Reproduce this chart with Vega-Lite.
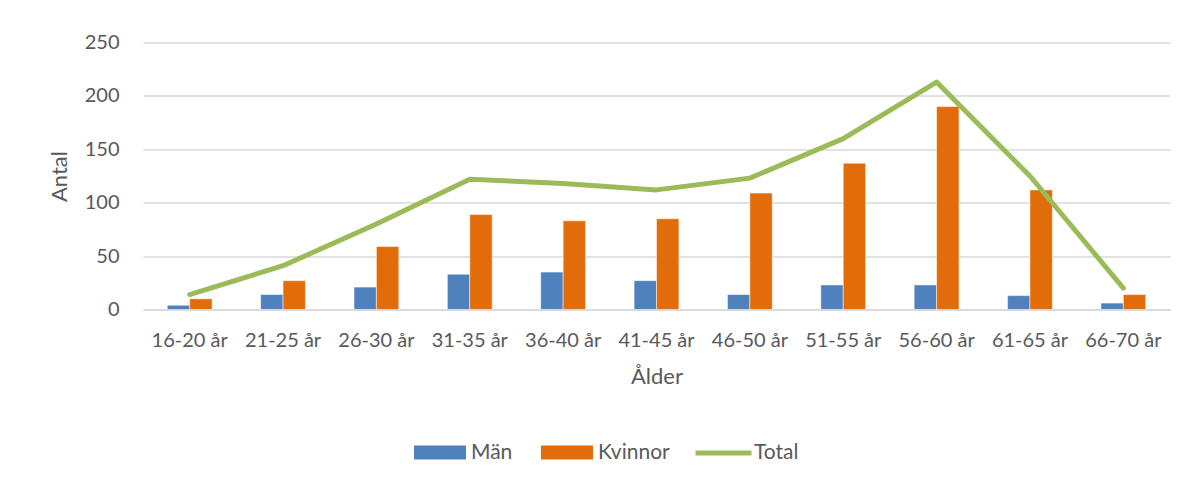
{
  "$schema": "https://vega.github.io/schema/vega-lite/v6.json",
  "autosize": "none",
  "width": 1027,
  "height": 267,
  "padding": {"left": 143, "top": 42.5, "right": 23, "bottom": 172.5},
  "background": "white",
  "config": {
    "font": "Lato",
    "view": {"stroke": null},
    "axis": {"labelColor": "#595959", "titleColor": "#595959", "titleFontWeight": "normal", "labelFont": "Lato", "titleFont": "Lato"},
    "legend": {"labelColor": "#595959", "labelFont": "Lato"}
  },
  "data": {
    "values": [
      {"alder": "16-20 år", "serie": "Män", "antal": 4},
      {"alder": "21-25 år", "serie": "Män", "antal": 14},
      {"alder": "26-30 år", "serie": "Män", "antal": 21},
      {"alder": "31-35 år", "serie": "Män", "antal": 33},
      {"alder": "36-40 år", "serie": "Män", "antal": 35},
      {"alder": "41-45 år", "serie": "Män", "antal": 27},
      {"alder": "46-50 år", "serie": "Män", "antal": 14},
      {"alder": "51-55 år", "serie": "Män", "antal": 23},
      {"alder": "56-60 år", "serie": "Män", "antal": 23},
      {"alder": "61-65 år", "serie": "Män", "antal": 13},
      {"alder": "66-70 år", "serie": "Män", "antal": 6},
      {"alder": "16-20 år", "serie": "Kvinnor", "antal": 10},
      {"alder": "21-25 år", "serie": "Kvinnor", "antal": 27},
      {"alder": "26-30 år", "serie": "Kvinnor", "antal": 59},
      {"alder": "31-35 år", "serie": "Kvinnor", "antal": 89},
      {"alder": "36-40 år", "serie": "Kvinnor", "antal": 83},
      {"alder": "41-45 år", "serie": "Kvinnor", "antal": 85},
      {"alder": "46-50 år", "serie": "Kvinnor", "antal": 109},
      {"alder": "51-55 år", "serie": "Kvinnor", "antal": 137},
      {"alder": "56-60 år", "serie": "Kvinnor", "antal": 190},
      {"alder": "61-65 år", "serie": "Kvinnor", "antal": 112},
      {"alder": "66-70 år", "serie": "Kvinnor", "antal": 14},
      {"alder": "16-20 år", "serie": "Total", "antal": 14},
      {"alder": "21-25 år", "serie": "Total", "antal": 41},
      {"alder": "26-30 år", "serie": "Total", "antal": 80},
      {"alder": "31-35 år", "serie": "Total", "antal": 122},
      {"alder": "36-40 år", "serie": "Total", "antal": 118},
      {"alder": "41-45 år", "serie": "Total", "antal": 112},
      {"alder": "46-50 år", "serie": "Total", "antal": 123},
      {"alder": "51-55 år", "serie": "Total", "antal": 160},
      {"alder": "56-60 år", "serie": "Total", "antal": 213},
      {"alder": "61-65 år", "serie": "Total", "antal": 125},
      {"alder": "66-70 år", "serie": "Total", "antal": 20}
    ]
  },
  "encoding": {
    "x": {
      "field": "alder", "type": "nominal", "sort": null,
      "scale": {"paddingInner": 0.52, "paddingOuter": 0.26},
      "axis": {
        "title": "Ålder", "labelAngle": 0, "labelFontSize": 20, "titleFontSize": 22,
        "ticks": false, "domainColor": "#d9d9d9", "domainWidth": 1.3,
        "labelPadding": 21, "titlePadding": 16
      }
    },
    "y": {
      "field": "antal", "type": "quantitative",
      "scale": {"domain": [0, 250], "nice": false},
      "axis": {
        "title": "Antal", "values": [0, 50, 100, 150, 200, 250],
        "labelFontSize": 20, "titleFontSize": 22, "ticks": false, "domain": false,
        "gridColor": "#d9d9d9", "gridWidth": 1.3, "labelPadding": 24, "titlePadding": 13
      }
    }
  },
  "layer": [
    {
      "transform": [{"filter": "datum.serie !== 'Total'"}],
      "mark": {"type": "bar", "stroke": "#ffffff", "strokeOpacity": 0.5, "strokeWidth": 1},
      "encoding": {
        "xOffset": {"field": "serie", "type": "nominal", "scale": {"domain": ["Män", "Kvinnor"]}},
        "fill": {
          "field": "serie", "type": "nominal",
          "scale": {"domain": ["Män", "Kvinnor"], "range": ["#4f81bd", "#e36c0a"]},
          "legend": {
            "title": null, "orient": "none", "direction": "horizontal",
            "legendX": 271, "legendY": 384, "padding": 0,
            "symbolType": "M-1,-0.27H1V0.27H-1Z", "symbolSize": 2704, "symbolStrokeWidth": 0,
            "symbolOpacity": 1,
            "labelFontSize": 21, "labelOffset": 5, "columnPadding": 28
          }
        }
      }
    },
    {
      "transform": [{"filter": "datum.serie === 'Total'"}],
      "mark": {"type": "line", "strokeWidth": 5, "strokeCap": "round", "strokeJoin": "round"},
      "encoding": {
        "stroke": {
          "field": "serie", "type": "nominal",
          "scale": {"domain": ["Total"], "range": ["#9bbb59"]},
          "legend": {
            "title": null, "orient": "none", "direction": "horizontal",
            "legendX": 550, "legendY": 380, "padding": 0,
            "symbolType": "stroke", "symbolSize": 3136, "symbolStrokeWidth": 5,
            "labelFontSize": 21, "labelOffset": 0
          }
        }
      }
    }
  ]
}
